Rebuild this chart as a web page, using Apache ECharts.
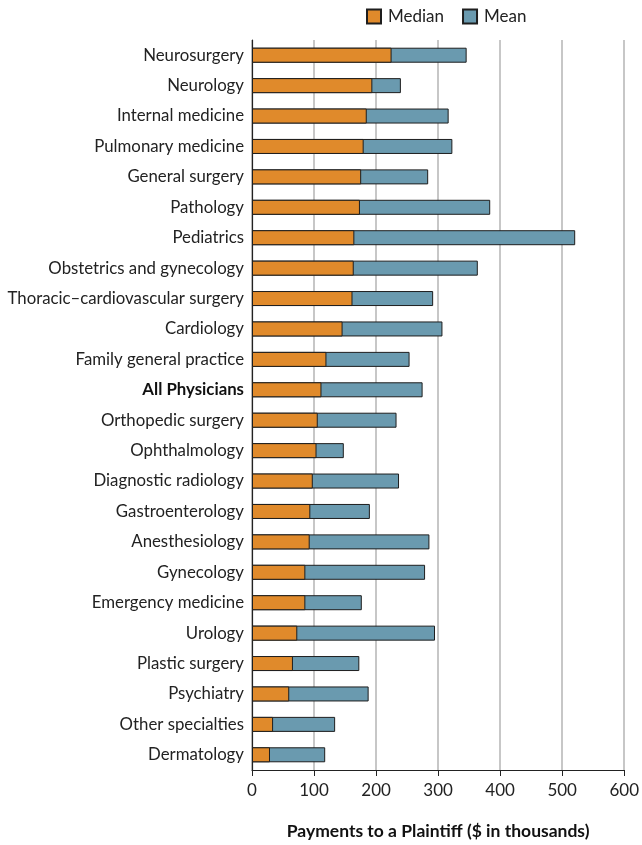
<!DOCTYPE html>
<html>
<head>
<meta charset="utf-8">
<script src="https://cdn.jsdelivr.net/npm/echarts@6/dist/echarts.min.js"></script>
<style>
html,body{margin:0;padding:0;background:#fff;}
#chart{width:642px;height:845px;}
</style>
</head>
<body>
<div id="chart"></div>
<script>
const categories = ["Neurosurgery","Neurology","Internal medicine","Pulmonary medicine","General surgery","Pathology","Pediatrics","Obstetrics and gynecology","Thoracic\u2013cardiovascular surgery","Cardiology","Family general practice","All Physicians","Orthopedic surgery","Ophthalmology","Diagnostic radiology","Gastroenterology","Anesthesiology","Gynecology","Emergency medicine","Urology","Plastic surgery","Psychiatry","Other specialties","Dermatology"];
const medianValues = [225,194,185,180,176,174,165,164,162,146,120,112,106,104,98,94,93,86,86,73,66,60,34,29];
const meanValues = [346,240,317,323,284,384,521,364,292,307,254,275,233,148,237,190,286,279,177,295,173,188,134,118];
const xTicks = [0,100,200,300,400,500,600];

const chart = echarts.init(document.getElementById('chart'));
const FONT = 'Lato';
chart.setOption({
  animation:false,
  textStyle:{fontFamily:FONT},
  legend:{
    top:3, left:361,
    itemWidth:14, itemHeight:14, itemGap:18,
    icon:'rect',
    textStyle:{fontFamily:FONT,fontSize:17,color:'#222',padding:[0,0,0,2]},
    data:[{name:'Median'},{name:'Mean'}]
  },
  grid:{left:252,right:14,top:40,bottom:72,containLabel:false},
  xAxis:{
    type:'value', min:xTicks[0], max:xTicks[xTicks.length-1], interval:100,
    name:'Payments to a Plaintiff ($ in thousands)',
    nameLocation:'middle', nameGap:52,
    nameTextStyle:{fontFamily:FONT,fontSize:17.5,fontWeight:'bold',color:'#111'},
    axisLine:{show:true,lineStyle:{color:'#222',width:1.2}},
    axisTick:{show:true,length:6,lineStyle:{color:'#222'}},
    axisLabel:{fontFamily:FONT,fontSize:17,color:'#222',margin:12},
    splitLine:{show:true,lineStyle:{color:'#b5b5b5',width:1.5}}
  },
  yAxis:{
    type:'category', inverse:true, data:categories,
    axisLine:{show:true,lineStyle:{color:'#222',width:1.2}},
    axisTick:{show:false},
    axisLabel:{
      fontFamily:FONT,fontSize:16.8,color:'#222',margin:8,
      formatter:function(v){return v==='All Physicians'?'{b|'+v+'}':v;},
      rich:{b:{fontFamily:FONT,fontSize:16.8,fontWeight:'bold',color:'#111'}}
    }
  },
  series:[
    {name:'Mean',type:'bar',data:meanValues,barWidth:15,barGap:'-100%',z:2,
     itemStyle:{color:'#6A9AAF',borderColor:'#1e1e1e',borderWidth:1}},
    {name:'Median',type:'bar',data:medianValues,barWidth:15,barGap:'-100%',z:3,
     itemStyle:{color:'#E08A2B',borderColor:'#1e1e1e',borderWidth:1}}
  ]
});
</script>
</body>
</html>
